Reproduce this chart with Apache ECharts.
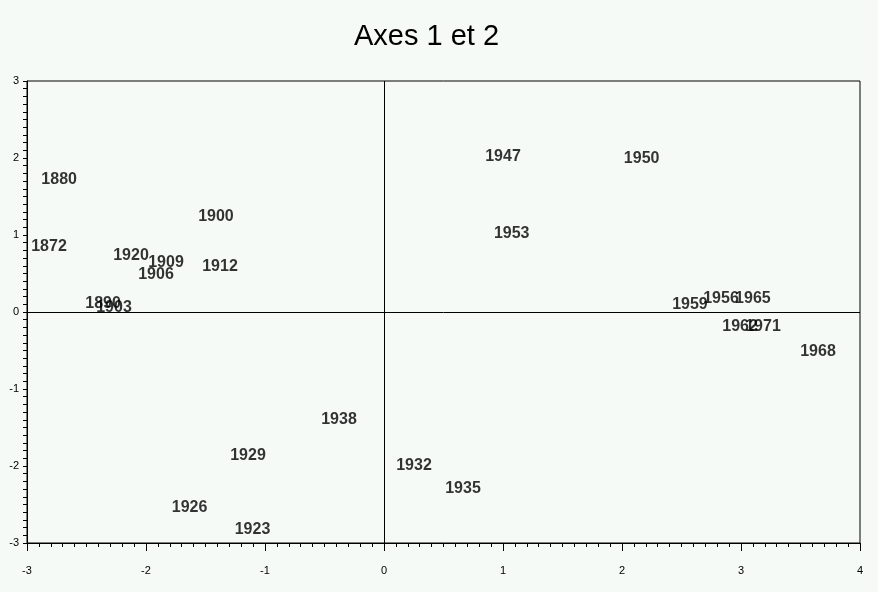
<!DOCTYPE html>
<html>
<head>
<meta charset="utf-8">
<script src="https://cdn.jsdelivr.net/npm/echarts@6/dist/echarts.min.js"></script>
<style>
html,body{margin:0;padding:0;background:#f5faf7;}
#chart{width:878px;height:592px;}
</style>
</head>
<body>
<div id="chart"></div>
<script>
const years = ['1880','1872','1900','1920','1909','1906','1912','1890','1903','1938','1929','1926','1923','1932','1935','1947','1950','1953','1959','1956','1965','1962','1971','1968'];
const axis1 = [-2.73,-2.815,-1.412,-2.126,-1.832,-1.916,-1.378,-2.361,-2.269,-0.378,-1.143,-1.634,-1.105,0.252,0.664,1.0,2.165,1.073,2.571,2.832,3.10,2.992,3.185,3.647];
const axis2 = [1.721,0.853,1.243,0.734,0.643,0.487,0.593,0.108,0.052,-1.394,-1.866,-2.545,-2.822,-2.0,-2.29,2.017,1.996,1.022,0.091,0.171,0.169,-0.19,-0.19,-0.515];
const xTicks = [-3,-2,-1,0,1,2,3,4];
const yTicks = [-3,-2,-1,0,1,2,3];

const chart = echarts.init(document.getElementById('chart'));
const pts = years.map((y,i)=>({name:y, value:[axis1[i], axis2[i]]}));
const font = 'Liberation Sans';
chart.setOption({
  backgroundColor:'#f5faf7',
  animation:false,
  title:{text:'Axes 1 et 2', left:349, top:17,
    textStyle:{fontFamily:font, fontSize:29, fontWeight:'normal', color:'#000'}},
  grid:{left:27, top:81, width:833, height:462, show:true, borderColor:'#000', borderWidth:1, backgroundColor:'#f5faf7'},
  xAxis:{type:'value', min:xTicks[0], max:xTicks[xTicks.length-1], interval:1,
    axisLine:{onZero:false, lineStyle:{color:'#000'}},
    axisTick:{length:8, lineStyle:{color:'#000'}},
    minorTick:{show:true, splitNumber:10, length:4, lineStyle:{color:'#000'}},
    splitLine:{show:false},
    axisLabel:{margin:22, color:'#000', fontFamily:font, fontSize:11}},
  yAxis:{type:'value', min:yTicks[0], max:yTicks[yTicks.length-1], interval:1,
    axisLine:{onZero:false, lineStyle:{color:'#000'}},
    axisTick:{length:4, lineStyle:{color:'#000'}},
    minorTick:{show:true, splitNumber:10, length:4, lineStyle:{color:'#000'}},
    splitLine:{show:false},
    axisLabel:{margin:8, color:'#000', fontFamily:font, fontSize:11}},
  series:[{
    type:'scatter', data:pts, symbolSize:0,
    itemStyle:{color:'#000'},
    label:{show:true, position:'inside', formatter:'{b}', color:'#000',
      textBorderWidth:0, textBorderColor:'transparent',
      fontFamily:font, fontSize:16, fontWeight:'bold'},
    markLine:{silent:true, symbol:'none', label:{show:false},
      lineStyle:{color:'#000', type:'solid', width:1},
      data:[{xAxis:0},{yAxis:0}]}
  }]
});
</script>
</body>
</html>
